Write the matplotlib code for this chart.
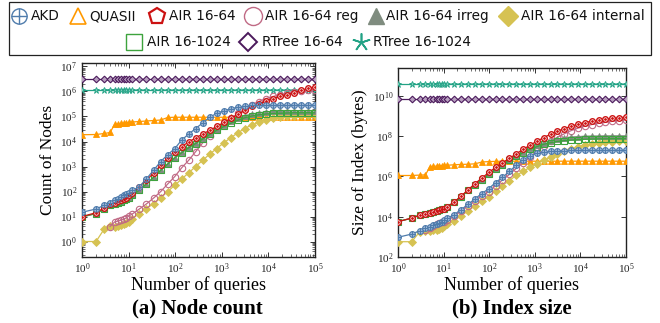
import numpy as np
import matplotlib
matplotlib.use("Agg")
import matplotlib.pyplot as plt
from matplotlib.lines import Line2D
from matplotlib.patches import Rectangle
from matplotlib.ticker import LogLocator, NullFormatter, FixedLocator

plt.rcParams['mathtext.fontset'] = 'stix'
plt.rcParams['font.family'] = ['Liberation Serif', 'DejaVu Serif']

# ---------------- data ----------------
queries = [1, 2, 3, 4, 5, 6, 7, 8, 9, 10, 12, 17, 24, 35, 49, 69, 98, 138, 195, 276,
           391, 552, 781, 1105, 1563, 2210, 3125, 4419, 6250, 8839, 12500, 17678,
           25000, 35355, 50000, 70711, 100000]

series_names = ['AKD', 'QUASII', 'AIR 16-64', 'AIR 16-64 reg', 'AIR 16-64 irreg',
                'AIR 16-64 internal', 'AIR 16-1024', 'RTree 16-64', 'RTree 16-1024']

# (a) node count, log10 values
nodes_akd = [1.17, 1.30, 1.45, 1.55, 1.65, 1.72, 1.78, 1.85, 1.90, 1.95, 2.05, 2.18, 2.50, 2.87, 3.20, 3.47,
             3.72, 4.06, 4.30, 4.52, 4.75, 4.97, 5.13, 5.23, 5.31, 5.37, 5.41, 5.44, 5.46, 5.46, 5.46, 5.46,
             5.46, 5.46, 5.46, 5.46, 5.46]
nodes_quasii = [4.27, 4.28, 4.32, 4.36, 4.68, 4.70, 4.72, 4.73, 4.74, 4.76, 4.78, 4.80, 4.82, 4.84, 4.86, 4.96,
                4.97, 4.97, 4.97, 4.97, 4.97, 4.97, 4.97, 4.97, 4.97, 4.97, 4.97, 4.97, 4.97, 4.97, 4.97, 4.97,
                4.97, 4.97, 4.97, 4.97, 4.97]
nodes_air = [1.00, 1.15, 1.35, 1.50, 1.55, 1.62, 1.68, 1.72, 1.76, 1.85, 1.95, 2.20, 2.45, 2.75, 3.05, 3.35,
             3.60, 3.80, 3.98, 4.15, 4.30, 4.45, 4.60, 4.76, 4.92, 5.08, 5.25, 5.40, 5.50, 5.62, 5.72, 5.80,
             5.87, 5.95, 6.05, 6.12, 6.19]
nodes_reg = [np.nan, np.nan, np.nan, 0.60, 0.78, 0.82, 0.86, 0.90, 0.95, 1.02, 1.10, 1.30, 1.50, 1.75, 2.00, 2.30,
             2.60, 2.95, 3.25, 3.60, 3.95, 4.22, 4.48, 4.72, 4.92, 5.12, 5.30, 5.47, 5.60, 5.72, 5.80, 5.87,
             5.93, 5.98, 6.02, 6.05, 6.07]
nodes_irreg = [0.98, 1.12, 1.30, 1.45, 1.50, 1.55, 1.60, 1.65, 1.70, 1.75, 1.85, 2.05, 2.30, 2.58, 2.85, 3.10,
               3.35, 3.57, 3.78, 3.96, 4.15, 4.33, 4.50, 4.66, 4.80, 4.93, 5.03, 5.10, 5.15, 5.18, 5.20, 5.21,
               5.22, 5.23, 5.23, 5.23, 5.23]
nodes_internal = [0.00, 0.00, 0.50, 0.62, 0.60, 0.62, 0.66, 0.70, 0.74, 0.80, 0.92, 1.12, 1.32, 1.52, 1.75, 2.00,
                  2.25, 2.50, 2.75, 3.00, 3.25, 3.50, 3.72, 3.95, 4.15, 4.35, 4.52, 4.67, 4.78, 4.87, 4.93, 4.97,
                  5.00, 5.02, 5.04, 5.05, 5.06]
nodes_air1024 = [0.98, 1.12, 1.30, 1.45, 1.50, 1.55, 1.60, 1.65, 1.70, 1.75, 1.85, 2.05, 2.30, 2.58, 2.85, 3.10,
                 3.35, 3.55, 3.75, 3.92, 4.10, 4.28, 4.45, 4.60, 4.73, 4.85, 4.95, 5.02, 5.07, 5.10, 5.12, 5.13,
                 5.14, 5.15, 5.15, 5.15, 5.15]
nodes_rtree64 = [6.50] * 37
nodes_rtree1024 = [6.06] * 37

# (b) index size in bytes, log10 values
size_akd = [2.98, 3.14, 3.31, 3.43, 3.50, 3.58, 3.65, 3.70, 3.76, 3.84, 3.92, 4.10, 4.35, 4.62, 4.90, 5.15,
            5.40, 5.70, 5.95, 6.25, 6.55, 6.82, 7.02, 7.15, 7.22, 7.26, 7.28, 7.29, 7.30, 7.30, 7.30, 7.30,
            7.30, 7.30, 7.30, 7.30, 7.30]
size_quasii = [6.05, 6.05, 6.07, 6.08, 6.48, 6.50, 6.52, 6.53, 6.54, 6.55, 6.56, 6.58, 6.60, 6.61, 6.63, 6.72,
               6.74, 6.75, 6.76, 6.76, 6.76, 6.76, 6.76, 6.76, 6.76, 6.76, 6.76, 6.76, 6.76, 6.76, 6.76, 6.76,
               6.76, 6.76, 6.76, 6.76, 6.76]
size_air = [3.76, 3.93, 4.08, 4.14, 4.20, 4.25, 4.30, 4.33, 4.36, 4.40, 4.50, 4.72, 5.02, 5.35, 5.65, 5.92,
            6.20, 6.45, 6.68, 6.90, 7.12, 7.35, 7.55, 7.75, 7.93, 8.10, 8.25, 8.38, 8.50, 8.60, 8.68, 8.75,
            8.80, 8.85, 8.89, 8.92, 8.95]
size_reg = [np.nan, np.nan, np.nan, 3.34, 3.45, 3.55, 3.62, 3.68, 3.72, 3.76, 3.85, 4.02, 4.30, 4.55, 4.80, 5.05,
            5.25, 5.55, 5.82, 6.10, 6.40, 6.68, 6.98, 7.25, 7.50, 7.75, 7.95, 8.12, 8.28, 8.40, 8.50, 8.58,
            8.64, 8.69, 8.74, 8.78, 8.82]
size_irreg = [3.76, 3.93, 4.08, 4.14, 4.20, 4.25, 4.30, 4.33, 4.36, 4.40, 4.50, 4.72, 5.00, 5.32, 5.60, 5.85,
              6.10, 6.35, 6.58, 6.80, 7.02, 7.22, 7.40, 7.55, 7.68, 7.78, 7.86, 7.92, 7.96, 7.98, 8.00, 8.01,
              8.01, 8.02, 8.02, 8.02, 8.02]
size_internal = [2.76, 2.76, 3.26, 3.31, 3.30, 3.33, 3.36, 3.40, 3.45, 3.55, 3.62, 3.80, 4.05, 4.30, 4.55, 4.80,
                 5.00, 5.30, 5.55, 5.80, 6.05, 6.25, 6.45, 6.62, 6.80, 6.95, 7.10, 7.25, 7.38, 7.48, 7.56, 7.62,
                 7.67, 7.70, 7.72, 7.74, 7.75]
size_air1024 = [3.76, 3.93, 4.08, 4.14, 4.20, 4.25, 4.30, 4.33, 4.36, 4.40, 4.50, 4.72, 5.00, 5.32, 5.60, 5.85,
                6.10, 6.35, 6.58, 6.80, 7.00, 7.18, 7.35, 7.48, 7.60, 7.68, 7.74, 7.78, 7.81, 7.83, 7.85, 7.86,
                7.87, 7.87, 7.88, 7.88, 7.88]
size_rtree64 = [9.85] * 37
size_rtree1024 = [10.59] * 37

nodes_all = [nodes_akd, nodes_quasii, nodes_air, nodes_reg, nodes_irreg, nodes_internal,
             nodes_air1024, nodes_rtree64, nodes_rtree1024]
size_all = [size_akd, size_quasii, size_air, size_reg, size_irreg, size_internal,
            size_air1024, size_rtree64, size_rtree1024]

# ---------------- styles ----------------
C_AKD = '#4f7cac'
C_QUA = '#ff9900'
C_AIR = '#cc1111'
C_REG = '#c06a85'
C_IRR = '#7f8c7f'
C_INT = '#d6c252'
C_1024 = '#3da33d'
C_RT64 = '#4b1a5c'
C_RT1024 = '#22a285'

plot_styles = [
    dict(color=C_AKD, marker='o', mfc='#9db8d8', mec=C_AKD, ms=4.2, mew=0.8),
    dict(color=C_QUA, marker='^', mfc=C_QUA, mec=C_QUA, ms=4.0, mew=0.6),
    dict(color=C_AIR, marker='o', mfc='white', mec=C_AIR, ms=4.0, mew=1.0),
    dict(color=C_REG, marker='o', mfc='none', mec=C_REG, ms=4.6, mew=0.8),
    dict(color=C_IRR, marker='^', mfc=C_IRR, mec=C_IRR, ms=4.6, mew=0.6),
    dict(color=C_INT, marker='D', mfc=C_INT, mec=C_INT, ms=3.6, mew=0.6),
    dict(color=C_1024, marker='s', mfc='none', mec=C_1024, ms=4.4, mew=0.8),
    dict(color=C_RT64, marker='D', mfc='#b8a0c0', mec=C_RT64, ms=3.4, mew=0.8),
    dict(color=C_RT1024, marker='*', mfc='#7fd0bd', mec=C_RT1024, ms=5.0, mew=0.6),
]
draw_order = [7, 8, 1, 5, 3, 4, 6, 2, 0]

fig = plt.figure(figsize=(6.6, 3.23), dpi=100)
W, H = 660.0, 323.0


def ax_rect(x0, y0, x1, y1):
    return [x0 / W, 1 - y1 / H, (x1 - x0) / W, (y1 - y0) / H]


ax1 = fig.add_axes(ax_rect(82, 63, 315, 257))
ax2 = fig.add_axes(ax_rect(398, 68, 626, 257))

for ax, data in ((ax1, nodes_all), (ax2, size_all)):
    for i in draw_order:
        st = plot_styles[i]
        vals = 10 ** np.array(data[i], dtype=float)
        ax.plot(queries, vals, lw=0.9, **st, zorder=3)
        if i == 0:
            ax.plot(queries, vals, ls='none', marker='+', color=C_AKD, ms=4.2, mew=0.7, zorder=4)
        if i == 2:
            ax.plot(queries, vals, ls='none', marker='.', color=C_AIR, ms=2.0, zorder=4)
    ax.set_xscale('log')
    ax.set_yscale('log')
    ax.set_xlim(1, 1e5)
    ax.set_xlabel('Number of queries', fontsize=13, labelpad=0)
    ax.tick_params(which='both', direction='in', top=True, right=True, labelsize=8,
                   colors='#333333', labelcolor='#222222')
    ax.tick_params(which='major', length=3.5, width=0.7)
    ax.tick_params(which='minor', length=2, width=0.5)
    ax.xaxis.set_major_locator(FixedLocator([1, 10, 100, 1e3, 1e4, 1e5]))
    ax.xaxis.set_minor_locator(LogLocator(base=10, subs=np.arange(2, 10), numticks=20))
    ax.xaxis.set_minor_formatter(NullFormatter())
    for s in ax.spines.values():
        s.set_linewidth(1.0)
        s.set_color('#222222')

ax1.set_ylim(10 ** -0.62, 10 ** 7.14)
ax1.yaxis.set_major_locator(FixedLocator([10 ** k for k in range(0, 8)]))
ax1.yaxis.set_minor_locator(LogLocator(base=10, subs=np.arange(2, 10), numticks=20))
ax1.yaxis.set_minor_formatter(NullFormatter())
ax1.set_ylabel('Count of Nodes', fontsize=12.5, labelpad=3)

ax2.set_ylim(1e2, 10 ** 11.39)
ax2.yaxis.set_major_locator(FixedLocator([1e2, 1e4, 1e6, 1e8, 1e10]))
ax2.yaxis.set_minor_locator(FixedLocator([]))
ax2.set_ylabel('Size of Index (bytes)', fontsize=12.5, labelpad=3)

fig.text(197 / W, 1 - 308 / H, '(a) Node count', ha='center', va='center',
         fontsize=15, fontweight='bold')
fig.text(512 / W, 1 - 308 / H, '(b) Index size', ha='center', va='center',
         fontsize=15, fontweight='bold')

# ---------------- legend (manual) ----------------
leg_styles = {
    'AKD': [dict(marker='o', mfc='none', mec=C_AKD, ms=11, mew=1.0),
            dict(marker='+', mfc='none', mec=C_AKD, ms=11, mew=1.0)],
    'QUASII': [dict(marker='^', mfc='none', mec=C_QUA, ms=12, mew=1.2)],
    'AIR 16-64': [dict(marker='p', mfc='none', mec=C_AIR, ms=12, mew=1.6)],
    'AIR 16-64 reg': [dict(marker='o', mfc='none', mec=C_REG, ms=13, mew=1.0)],
    'AIR 16-64 irreg': [dict(marker='^', mfc=C_IRR, mec=C_IRR, ms=12, mew=1.0)],
    'AIR 16-64 internal': [dict(marker='D', mfc=C_INT, mec=C_INT, ms=10, mew=1.0)],
    'AIR 16-1024': [dict(marker='s', mfc='none', mec=C_1024, ms=12, mew=1.0)],
    'RTree 16-64': [dict(marker='D', mfc='none', mec=C_RT64, ms=9.5, mew=1.4)],
    'RTree 16-1024': [dict(marker=(5, 2, 0), mfc='none', mec=C_RT1024, ms=13, mew=1.2)],
}
leg_layout = [
    ('AKD', 19, 31, 16), ('QUASII', 78, 89, 16), ('AIR 16-64', 157, 169, 16),
    ('AIR 16-64 reg', 253, 265, 16), ('AIR 16-64 irreg', 376, 386, 16),
    ('AIR 16-64 internal', 508, 521, 16),
    ('AIR 16-1024', 134, 147, 42), ('RTree 16-64', 248, 262, 42), ('RTree 16-1024', 361, 373, 42),
]
for name, mx, tx, y in leg_layout:
    for st in leg_styles[name]:
        fig.add_artist(Line2D([mx / W], [1 - y / H], ls='none', transform=fig.transFigure, **st))
    fig.text(tx / W, 1 - y / H, name, ha='left', va='center', fontsize=9.8,
             family='DejaVu Sans', color='#111111')

fig.add_artist(Rectangle((9 / W, 1 - 55 / H), 642 / W, 53 / H, transform=fig.transFigure,
                         fill=False, ec='#222222', lw=0.9))

fig.savefig('out.png', dpi=100)
